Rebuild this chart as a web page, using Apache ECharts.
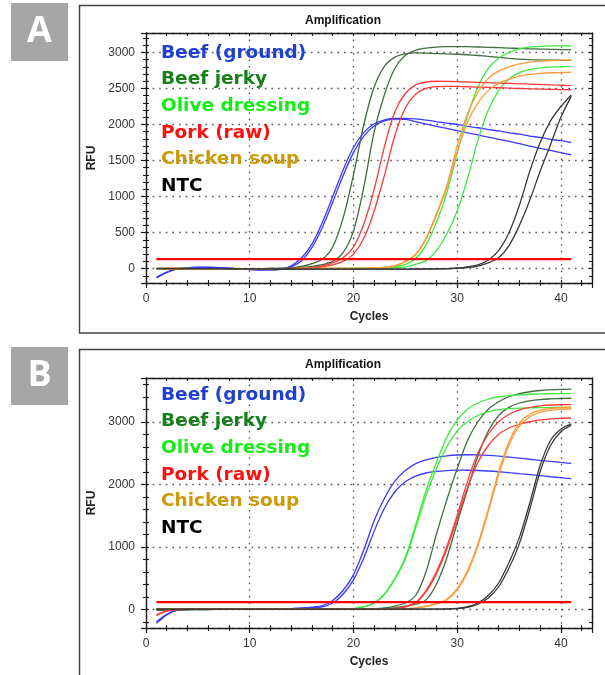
<!DOCTYPE html>
<html><head><meta charset="utf-8">
<script src="https://cdn.jsdelivr.net/npm/echarts@6/dist/echarts.min.js"></script>
<style>html,body{margin:0;padding:0;background:#fff}#c{width:605px;height:675px}</style>
</head><body><div id="c"></div>
<script>
// ---------- data ----------
const cycles = [1,2,3,4,5,6,7,8,9,10,11,12,13,14,15,16,17,18,19,20,21,22,23,24,25,26,27,28,29,30,31,32,33,34,35,36,37,38,39,40,41];
const samples = ['Beef (ground)','Beef jerky','Olive dressing','Pork (raw)','Chicken soup','NTC'];
const xTickLabels = [0,10,20,30,40];
const yTickLabelsA = [0,500,1000,1500,2000,2500,3000];
const yTickLabelsB = [0,1000,2000,3000];
const thresholdA = 130;
const thresholdB = 115;

// Panel A
const A_beefGround1 = [-130,-55,-5,12,20,20,14,6,-3,-12,-18,-18,-8,40,150,340,640,1000,1370,1680,1890,2010,2065,2085,2085,2078,2062,2040,2020,2000,1975,1955,1930,1910,1885,1865,1840,1820,1795,1775,1750];
const A_beefGround2 = [-120,-50,-3,12,18,18,12,5,-4,-13,-20,-19,-10,25,110,290,570,920,1290,1610,1840,1980,2050,2075,2070,2040,2005,1975,1945,1915,1885,1855,1825,1795,1765,1735,1700,1670,1640,1610,1580];
const A_beefJerky1 = [3,2,1,1,0,0,-1,-2,-2,-2,-1,2,5,10,30,70,130,300,700,1300,2000,2520,2810,2935,2980,2995,2990,2985,2980,2975,2968,2958,2946,2932,2918,2907,2900,2896,2893,2891,2890];
const A_beefJerky2 = [2,1,1,0,0,-1,-1,-2,-2,-1,0,1,3,6,15,30,55,100,220,520,1130,1900,2420,2780,2960,3030,3060,3075,3080,3082,3080,3076,3071,3066,3061,3056,3051,3047,3043,3040,3037];
const A_olive1 = [0,1,1,1,0,0,0,-1,-1,-1,-1,0,0,0,1,1,2,2,3,4,5,8,15,30,60,140,330,640,1050,1600,2120,2520,2780,2920,3000,3050,3075,3085,3090,3092,3093];
const A_olive2 = [0,1,1,1,0,0,0,-1,-1,-1,-1,0,0,0,1,1,1,2,2,3,3,4,5,12,25,60,110,250,480,800,1250,1780,2200,2470,2630,2720,2765,2785,2797,2803,2806];
const A_pork1 = [0,1,1,1,0,0,-1,-1,-1,-1,0,0,0,1,5,15,35,80,150,300,620,1100,1700,2180,2430,2550,2590,2600,2598,2595,2590,2585,2580,2575,2570,2565,2560,2555,2550,2545,2540];
const A_pork2 = [0,1,1,0,0,0,-1,-1,-1,-1,0,0,0,1,3,10,25,50,100,200,420,800,1300,1850,2230,2420,2500,2525,2530,2528,2524,2520,2515,2510,2505,2500,2495,2492,2488,2485,2482];
const A_chicken1 = [0,1,1,0,0,0,0,-1,-1,-1,0,0,0,0,1,1,1,2,2,2,3,8,15,40,100,200,420,760,1150,1700,2150,2450,2640,2740,2800,2840,2865,2880,2888,2893,2895];
const A_chicken2 = [0,1,1,0,0,0,0,-1,-1,-1,0,0,0,0,1,1,1,2,2,2,3,8,15,38,95,195,410,740,1120,1620,2030,2300,2470,2570,2630,2670,2695,2710,2718,2722,2725];
const A_ntc1 = [0,0,0,0,0,0,-1,-2,-3,-4,-5,-5,-6,-6,-7,-7,-8,-8,-8,-8,-8,-8,-8,-7,-7,-6,-5,-3,0,8,25,50,120,250,500,880,1350,1750,2050,2250,2410];
const A_ntc2 = [0,0,0,0,0,0,-1,-2,-3,-4,-5,-5,-6,-6,-7,-7,-8,-8,-8,-8,-8,-8,-8,-8,-7,-7,-6,-5,-3,3,15,35,80,150,320,600,950,1350,1720,2100,2390];

// Panel B
const B_beefGround1 = [-226,-90,-15,0,5,8,8,6,5,5,5,3,5,10,20,35,60,140,300,550,950,1420,1780,2050,2220,2330,2390,2430,2455,2468,2472,2470,2462,2450,2435,2418,2400,2383,2367,2350,2335];
const B_beefGround2 = [-200,-80,-12,0,4,6,6,5,4,4,4,3,4,8,15,25,40,100,240,470,820,1250,1620,1880,2040,2130,2180,2205,2218,2225,2224,2220,2212,2200,2185,2170,2155,2138,2120,2105,2090];
const B_beefJerky1 = [-15,-12,-10,-8,-6,-4,-3,-2,-1,0,0,0,0,0,0,0,0,1,1,2,3,5,20,50,100,220,600,1200,1750,2250,2700,3000,3200,3320,3400,3450,3480,3500,3510,3517,3522];
const B_beefJerky2 = [-15,-12,-10,-8,-6,-4,-3,-2,-1,0,0,0,0,0,0,0,0,1,1,2,3,5,10,20,50,80,150,400,820,1380,1920,2450,2850,3100,3230,3300,3335,3355,3365,3372,3376];
const B_olive1 = [0,0,0,0,0,0,0,0,0,0,0,0,0,0,1,1,2,3,5,10,40,100,250,500,830,1350,1900,2350,2750,3030,3200,3300,3360,3400,3420,3432,3440,3445,3448,3450,3452];
const B_olive2 = [0,0,0,0,0,0,0,0,0,0,0,0,0,0,1,1,2,3,5,10,38,95,240,480,800,1300,1820,2250,2600,2850,3000,3100,3160,3195,3210,3218,3222,3225,3227,3228,3228];
const B_pork1 = [-100,-30,-5,0,2,2,1,0,0,0,0,0,0,0,0,0,1,1,1,2,3,4,6,10,40,110,300,600,1000,1500,2050,2500,2800,3000,3120,3190,3230,3255,3268,3273,3276];
const B_pork2 = [-90,-28,-5,0,2,2,1,0,0,0,0,0,0,0,0,0,1,1,1,2,3,4,6,10,38,105,280,570,960,1450,1950,2350,2620,2800,2900,2960,3000,3030,3045,3055,3060];
const B_chicken1 = [0,0,0,0,0,0,0,0,0,0,0,0,0,0,0,0,0,0,0,1,1,2,2,3,5,20,50,90,160,330,620,1050,1600,2200,2680,2980,3120,3185,3215,3228,3235];
const B_chicken2 = [0,0,0,0,0,0,0,0,0,0,0,0,0,0,0,0,0,0,0,1,1,2,2,3,5,18,45,85,150,310,590,1010,1560,2150,2630,2930,3080,3150,3185,3200,3208];
const B_ntc1 = [0,0,0,0,0,0,0,0,0,0,0,0,0,0,0,0,0,0,0,0,0,0,0,0,0,1,2,3,5,15,40,100,220,420,750,1150,1700,2300,2700,2880,2965];
const B_ntc2 = [0,0,0,0,0,0,0,0,0,0,0,0,0,0,0,0,0,0,0,0,0,0,0,0,0,1,2,3,3,10,30,80,180,360,660,1050,1600,2200,2620,2840,2945];

// ---------- styles ----------
const lineColors = {'Beef (ground)':'#3a3aff','Beef jerky':'#3f6b3f','Olive dressing':'#3cec3c','Pork (raw)':'#ff3838','Chicken soup':'#ff9a3a','NTC':'#3a3a3a'};
const textColors = {'Beef (ground)':'#1f40d0','Beef jerky':'#18801a','Olive dressing':'#14ee14','Pork (raw)':'#ff1010','Chicken soup':'#cc9a08','NTC':'#000000'};

const panels = [
  {label:'A', boxTop:5, top:33, yMin:-200, yMax:3270, ySplit:7, yLabels:yTickLabelsA, minorStep:100, threshold:thresholdA, legendY:53,
   curves:[['Beef (ground)',A_beefGround1],['Beef (ground)',A_beefGround2],['Beef jerky',A_beefJerky1],['Beef jerky',A_beefJerky2],
           ['Olive dressing',A_olive1],['Olive dressing',A_olive2],['Pork (raw)',A_pork1],['Pork (raw)',A_pork2],
           ['Chicken soup',A_chicken1],['Chicken soup',A_chicken2],['NTC',A_ntc1],['NTC',A_ntc2]]},
  {label:'B', boxTop:349, top:378, yMin:-300, yMax:3700, ySplit:4, yLabels:yTickLabelsB, minorStep:200, threshold:thresholdB, legendY:395,
   curves:[['Beef (ground)',B_beefGround1],['Beef (ground)',B_beefGround2],['Beef jerky',B_beefJerky1],['Beef jerky',B_beefJerky2],
           ['Olive dressing',B_olive1],['Olive dressing',B_olive2],['Pork (raw)',B_pork1],['Pork (raw)',B_pork2],
           ['Chicken soup',B_chicken1],['Chicken soup',B_chicken2],['NTC',B_ntc1],['NTC',B_ntc2]]}
];

const grid = [], xAxis = [], yAxis = [], series = [], graphic = [];
const ink = '#1a1a1a';
const lblFont = 'Liberation Sans, Arial, sans-serif';

function range(a, b, step) { const r = []; for (let v = a; v <= b + 1e-9; v += step) r.push(v); return r; }
function line(show) { return {show:show, onZero:false, lineStyle:{color:ink, width:1.4}}; }
function tickAxis(kind, gi, pos, min, max, values, inside, len) {
  return {type:'value', gridIndex:gi, position:pos, min:min, max:max,
    axisLine:line(false), axisTick:{show:true, inside:inside, length:len, customValues:values, lineStyle:{color:ink, width:1.1}},
    axisLabel:{show:false}, splitLine:{show:false}};
}

panels.forEach((p, gi) => {
  grid.push({left:146, top:p.top, width:446, height:250});
  const xi = xAxis.length, yi = yAxis.length;
  const xAll = range(2, 42, 2);
  const xMinor = xAll.filter(v => v % 10 !== 0);
  const yStart = Math.ceil(p.yMin / p.minorStep) * p.minorStep;
  const yAll = range(yStart, p.yMax, p.minorStep);
  const yMinor = yAll.filter(v => !p.yLabels.includes(v));
  const split = {show:true, lineStyle:{type:[1.6,5], color:'#555', width:1.3}};
  // bottom main
  xAxis.push({type:'value', gridIndex:gi, position:'bottom', min:0, max:43, interval:10,
    axisLine:line(true), axisTick:{show:true, length:5, lineStyle:{color:ink, width:1.2}},
    axisLabel:{margin:10, color:'#333', fontSize:12, fontFamily:lblFont, formatter:v => xTickLabels.includes(v) ? String(v) : ''},
    splitLine:split,
    name:'Cycles', nameLocation:'middle', nameGap:28,
    nameTextStyle:{fontWeight:'bold', fontSize:12, color:'#222', fontFamily:lblFont}});
  xAxis.push(tickAxis('x', gi, 'bottom', 0, 43, xMinor, false, 3));
  xAxis.push(tickAxis('x', gi, 'bottom', 0, 43, xAll, true, 3));
  // top frame
  xAxis.push({type:'value', gridIndex:gi, position:'top', min:0, max:43,
    axisLine:line(true), axisTick:{show:true, inside:true, length:3, customValues:xAll, lineStyle:{color:ink, width:1.1}},
    axisLabel:{show:false}, splitLine:{show:false}});
  // left main
  yAxis.push({type:'value', gridIndex:gi, position:'left', min:p.yMin, max:p.yMax, splitNumber:p.ySplit,
    axisLine:line(true), axisTick:{show:true, length:5, lineStyle:{color:ink, width:1.2}},
    axisLabel:{margin:11, color:'#333', fontSize:12, fontFamily:lblFont, formatter:v => p.yLabels.includes(v) ? String(v) : ''},
    splitLine:split,
    name:'RFU', nameLocation:'middle', nameGap:40,
    nameTextStyle:{fontWeight:'bold', fontSize:12, color:'#222', fontFamily:lblFont}});
  yAxis.push(tickAxis('y', gi, 'left', p.yMin, p.yMax, yMinor, false, 3));
  yAxis.push(tickAxis('y', gi, 'left', p.yMin, p.yMax, yAll, true, 3));
  // right frame
  yAxis.push({type:'value', gridIndex:gi, position:'right', min:p.yMin, max:p.yMax,
    axisLine:line(true), axisTick:{show:true, inside:true, length:3, customValues:yAll, lineStyle:{color:ink, width:1.1}},
    axisLabel:{show:false}, splitLine:{show:false}});

  p.curves.forEach(([name, vals]) => {
    series.push({type:'line', name, xAxisIndex:xi, yAxisIndex:yi, showSymbol:false, smooth:0.3,
      lineStyle:{color:lineColors[name], width:1.3}, itemStyle:{color:lineColors[name]},
      data:cycles.map((c, i) => [c, vals[i]]), z:3, silent:true});
  });
  series.push({type:'line', name:'Threshold', xAxisIndex:xi, yAxisIndex:yi, showSymbol:false,
    lineStyle:{color:'#ff0000', width:2.2}, data:[[cycles[0], p.threshold],[cycles[cycles.length-1], p.threshold]], z:4, silent:true});

  // outer frame
  graphic.push({type:'rect', shape:{x:79.5, y:p.boxTop + 0.5, width:540, height: gi === 0 ? 327.5 : 340},
    style:{fill:null, stroke:'#444', lineWidth:1.5}, z:1});
  // letter box
  graphic.push({type:'rect', shape:{x:11, y:p.boxTop - 2, width:57, height:58}, style:{fill:'#a6a6a6'}, z:2});
  graphic.push({type:'text', x:39.5, y:p.boxTop + 27, style:{text:p.label, fill:'#fff', font:'bold 36px "Open Sans", "DejaVu Sans", sans-serif', textAlign:'center', textVerticalAlign:'middle'}, z:3});
  // title
  graphic.push({type:'text', x:343, y:p.boxTop + 15.5, style:{text:'Amplification', fill:'#111', font:'bold 12px "Liberation Sans", Arial, sans-serif', textAlign:'center', textVerticalAlign:'middle'}, z:3});
  // legend texts
  samples.forEach((s, k) => {
    graphic.push({type:'text', x:161, y:p.legendY + k * 26.6,
      style:{text:s, fill:textColors[s], font:'bold 18.5px "DejaVu Sans", sans-serif', textAlign:'left', textVerticalAlign:'middle'}, z:10});
  });
});

const chart = echarts.init(document.getElementById('c'), null, {renderer:'canvas'});
chart.setOption({backgroundColor:'#ffffff', animation:false, grid, xAxis, yAxis, series, graphic});
</script></body></html>
